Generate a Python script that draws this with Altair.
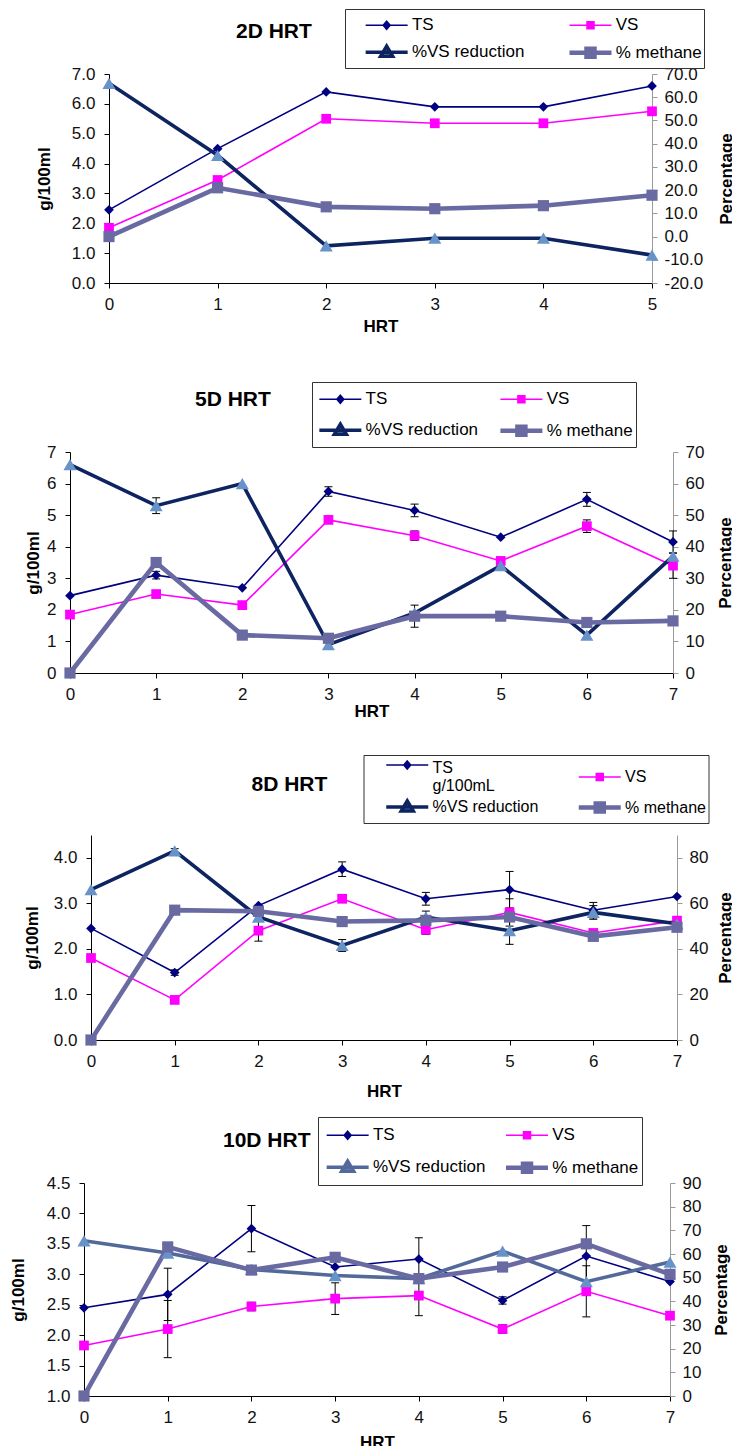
import altair as alt
import pandas as pd

FONT = "Liberation Sans"
SERIES = ["TS", "VS", "%VS reduction", "% methane"]

# ---------------- data ----------------
# 2D HRT
HRT_2D = [0, 1, 2, 3, 4, 5]
TS_2D = [2.45, 4.5, 6.4, 5.9, 5.9, 6.6]
VS_2D = [1.85, 3.45, 5.5, 5.35, 5.35, 5.75]
VSRED_2D = [66.0, 35.0, -4.0, -0.7, -0.7, -8.0]
METH_2D = [0.0, 21.0, 12.8, 12.0, 13.3, 17.8]
ZERO_6 = [0, 0, 0, 0, 0, 0]

# 5D HRT
HRT_5D = [0, 1, 2, 3, 4, 5, 6, 7]
TS_5D = [2.45, 3.1, 2.7, 5.75, 5.15, 4.3, 5.5, 4.15]
TS_5D_ERR = [0, 0.12, 0, 0.15, 0.2, 0, 0.22, 0.35]
VS_5D = [1.85, 2.5, 2.15, 4.85, 4.35, 3.55, 4.65, 3.4]
VS_5D_ERR = [0, 0, 0, 0, 0.15, 0, 0.2, 0.4]
VSRED_5D = [66.0, 53.0, 60.0, 9.0, 19.0, 34.0, 12.0, 37.0]
VSRED_5D_ERR = [0, 2.5, 0, 0, 0, 0, 0, 0]
METH_5D = [0.0, 35.0, 12.0, 11.0, 18.0, 18.0, 16.0, 16.5]
METH_5D_ERR = [0, 0, 0, 0, 3.5, 0, 0, 0]

# 8D HRT
HRT_8D = [0, 1, 2, 3, 4, 5, 6, 7]
TS_8D = [2.45, 1.48, 2.95, 3.75, 3.1, 3.3, 2.85, 3.15]
TS_8D_ERR = [0, 0.06, 0, 0.16, 0.14, 0.4, 0.17, 0]
VS_8D = [1.8, 0.88, 2.4, 3.1, 2.42, 2.8, 2.35, 2.62]
VS_8D_ERR = [0, 0, 0.23, 0, 0.1, 0.3, 0, 0]
VSRED_8D = [66.0, 83.0, 54.0, 41.5, 54.0, 48.0, 56.0, 51.0]
VSRED_8D_ERR = [0, 1.0, 0, 2.6, 2.6, 6.0, 3.0, 0]
METH_8D = [0.0, 57.0, 56.5, 52.0, 52.5, 54.0, 45.5, 49.5]
ZERO_8 = [0, 0, 0, 0, 0, 0, 0, 0]

# 10D HRT
HRT_10D = [0, 1, 2, 3, 4, 5, 6, 7]
TS_10D = [2.45, 2.67, 3.75, 3.12, 3.25, 2.57, 3.3, 2.88]
TS_10D_ERR = [0, 0.43, 0.38, 0, 0.35, 0.06, 0.5, 0]
VS_10D = [1.83, 2.1, 2.47, 2.6, 2.65, 2.1, 2.72, 2.32]
VS_10D_ERR = [0, 0.47, 0.07, 0.26, 0.33, 0.07, 0.42, 0.05]
VSRED_10D = [65.6, 60.4, 53.5, 50.9, 49.6, 61.2, 48.3, 56.6]
METH_10D = [0.0, 63.0, 53.2, 58.6, 49.6, 54.5, 64.3, 51.4]

# axis ticks
L_TICKS_2D = [0, 1, 2, 3, 4, 5, 6, 7]
R_TICKS_2D = [-20, -10, 0, 10, 20, 30, 40, 50, 60, 70]
L_TICKS_5D = [0, 1, 2, 3, 4, 5, 6, 7]
R_TICKS_5D = [0, 10, 20, 30, 40, 50, 60, 70]
L_TICKS_8D = [0, 1, 2, 3, 4]
R_TICKS_8D = [0, 20, 40, 60, 80]
L_TICKS_10D = [1.0, 1.5, 2.0, 2.5, 3.0, 3.5, 4.0, 4.5]
R_TICKS_10D = [0, 10, 20, 30, 40, 50, 60, 70, 80, 90]

# ---------------- styles ----------------
C_TS = "#000080"
C_VS = "#FF00FF"
C_RED_FILL = "#6793C8"
C_METH = "#6A6AA2"
SYM_C = 12.25  # centre of legend symbol cell (px)


def legend_paths(lead, ts_dy=0.0):
    xs = (lead - SYM_C) / 10.0
    xe = xs + 4.2
    xm = xs + 2.1

    def f(v):
        return f"{v:.3f}"

    ts = (f"M{f(xs)},{f(ts_dy)}H{f(xe)}M{f(xm)},{f(ts_dy - 0.4)}L{f(xm + 0.35)},{f(ts_dy)}"
          f"L{f(xm)},{f(ts_dy + 0.4)}L{f(xm - 0.35)},{f(ts_dy)}Z")
    vs = f"M{f(xs)},0H{f(xe)}M{f(xm - 0.35)},-0.35H{f(xm + 0.35)}V0.35H{f(xm - 0.35)}Z"
    red = f"M{f(xs)},0H{f(xe)}M{f(xm)},-0.6L{f(xm + 0.6)},0.4H{f(xm - 0.6)}Z"
    meth = f"M{f(xs)},0H{f(xe)}M{f(xm - 0.4)},-0.4H{f(xm + 0.4)}V0.4H{f(xm - 0.4)}Z"
    return [ts, vs, red, meth]


IND = dict(shape="independent", fill="independent", stroke="independent",
           strokeWidth="independent")


def make_panel(hrt, vals, errs, P):
    rows = []
    for s in SERIES:
        for i, h in enumerate(hrt):
            v = vals[s][i]
            e = errs[s][i]
            rows.append({"hrt": h, "series": s, "value": v, "err": e, "lo": v - e, "hi": v + e})
    df = pd.DataFrame(rows)
    base = alt.Chart(df)

    xenc = alt.X(
        "hrt:Q", title="HRT",
        scale=alt.Scale(domain=[0, max(hrt)], nice=False, zero=False),
        axis=alt.Axis(values=list(hrt), format="d", labelFlush=False, labelOverlap=False,
                      tickSize=5, labelPadding=8, titlePadding=P["x_tp"],
                      domainColor="black", tickColor="black"),
    )

    def yl(field):
        return alt.Y(
            f"{field}:Q", title="g/100ml",
            scale=alt.Scale(domain=P["ldom"], nice=False, zero=False),
            axis=alt.Axis(orient="left", values=P["lticks"], format=P["lfmt"],
                          labelFlush=False, labelOverlap=False, tickSize=5, labelPadding=9,
                          titlePadding=P["y_tp"], domainColor="black", tickColor="black"),
        )

    def yr(field):
        return alt.Y(
            f"{field}:Q", title="Percentage",
            scale=alt.Scale(domain=P["rdom"], nice=False, zero=False),
            axis=alt.Axis(orient="right", values=P["rticks"], format=P["rfmt"],
                          labelExpr="replace(datum.label, '\u2212', '-')",
                          labelFlush=False, labelOverlap=False, tickSize=5, labelPadding=7,
                          titlePadding=P["r_tp"], titleAngle=270,
                          domainColor="#9a9a9a", tickColor="#9a9a9a"),
        )

    def only(names):
        return " || ".join(f"datum.series == '{n}'" for n in names)

    red_line = P["red_line"]

    # ---- left (g/100ml) group ----
    left_layers = []
    for s, col in (("TS", C_TS), ("VS", C_VS)):
        left_layers.append(
            base.transform_filter(only([s])).mark_line(color=col, strokeWidth=1.6)
            .encode(x=xenc, y=yl("value"))
        )
    errL = base.transform_filter(f"({only(['TS', 'VS'])}) && datum.err > 0")
    left_layers.append(errL.mark_rule(color="black", strokeWidth=1).encode(x=xenc, y=yl("lo"), y2="hi"))
    left_layers.append(
        errL.transform_fold(["lo", "hi"], as_=["cap", "capv"])
        .mark_tick(orient="horizontal", size=8, thickness=1, color="black", opacity=1)
        .encode(x=xenc, y=yl("capv"))
    )
    left_layers.append(
        base.transform_filter(only(["TS"])).mark_point(shape="diamond", filled=True, size=95,
                                                       color=C_TS, opacity=1)
        .encode(x=xenc, y=yl("value"))
    )
    left_layers.append(
        base.transform_filter(only(["VS"])).mark_point(shape="square", filled=True, size=95,
                                                       color=C_VS, opacity=1)
        .encode(x=xenc, y=yl("value"))
    )

    leg_kw = dict(
        title=None, orient="none", legendX=P["lx"], legendY=P["ly"], columns=2,
        direction="horizontal",
        columnPadding=P["cp"], rowPadding=P["rp"], padding=P["pad"],
        strokeColor="#333333", fillColor="white", labelFont=FONT,
        labelFontSize=P["lfs"], labelColor="black", labelOffset=P["lead"] + 21.5,
        labelLimit=400, symbolSize=400, symbolOpacity=1, gridAlign="all", offset=0,
    )
    if P.get("ts_label2"):
        leg_kw["labelExpr"] = "datum.label == 'TS' ? ['TS', 'g/100mL'] : datum.label"
    leg = alt.Legend(**leg_kw)
    paths = legend_paths(P["lead"], P.get("ts_dy", 0.0))

    def sc(rng, **kw):
        return alt.Scale(domain=SERIES, range=rng, **kw)

    left_layers.append(
        base.transform_filter(only(["TS", "VS"])).mark_point(filled=True, opacity=0)
        .encode(
            x=xenc, y=yl("value"),
            shape=alt.Shape("series:N", scale=sc(paths), legend=leg),
            fill=alt.Fill("series:N", scale=sc([C_TS, C_VS, C_RED_FILL, C_METH]), legend=leg),
            stroke=alt.Stroke("series:N", scale=sc([C_TS, C_VS, red_line, C_METH]), legend=leg),
            strokeWidth=alt.StrokeWidth("series:N", scale=sc([1.5, 1.5, 3.5, 4.5], type="ordinal"),
                                        legend=leg),
        )
    )
    left = alt.layer(*left_layers)

    # ---- right (Percentage) group ----
    right_layers = []
    right_layers.append(
        base.transform_filter(only(["%VS reduction"])).mark_line(color=red_line, strokeWidth=3.6)
        .encode(x=xenc, y=yr("value"))
    )
    right_layers.append(
        base.transform_filter(only(["% methane"])).mark_line(color=C_METH, strokeWidth=4.6)
        .encode(x=xenc, y=yr("value"))
    )
    errR = base.transform_filter(f"({only(['%VS reduction', '% methane'])}) && datum.err > 0")
    right_layers.append(errR.mark_rule(color="black", strokeWidth=1).encode(x=xenc, y=yr("lo"), y2="hi"))
    right_layers.append(
        errR.transform_fold(["lo", "hi"], as_=["cap", "capv"])
        .mark_tick(orient="horizontal", size=8, thickness=1, color="black", opacity=1)
        .encode(x=xenc, y=yr("capv"))
    )
    right_layers.append(
        base.transform_filter(only(["%VS reduction"])).mark_point(shape="triangle-up", filled=True,
                                                                  size=170, color=C_RED_FILL, opacity=1)
        .encode(x=xenc, y=yr("value"))
    )
    right_layers.append(
        base.transform_filter(only(["% methane"])).mark_point(shape="square", filled=True, size=125,
                                                              color=C_METH, opacity=1)
        .encode(x=xenc, y=yr("value"))
    )
    right = alt.layer(*right_layers)

    panel = (
        alt.layer(left, right)
        .resolve_scale(y="independent")
        .properties(width=P["w"], height=P["h"])
    )

    # left margin cell: fixes the horizontal position of the panel and carries its title
    margin = (
        alt.Chart(alt.Data(values=[{"m": 1}]))
        .mark_point(opacity=0, size=1, filled=True, strokeWidth=0)
        .encode(x=alt.X("m:Q", axis=None, scale=alt.Scale(domain=[1, 2])),
                y=alt.Y("m:Q", axis=None, scale=alt.Scale(domain=[0, 1])))
        .properties(
            width=P["d"], height=P["h"],
            title=alt.TitleParams(text=P["title"], anchor="start", frame="group", dx=P["tdx"],
                                  offset=P["toff"], baseline="alphabetic", font=FONT,
                                  fontSize=21, fontWeight="bold", color="black"),
        )
    )
    return (alt.hconcat(margin, panel, spacing=0, bounds="flush")
            .resolve_scale(**IND).resolve_legend(**IND))


P2 = dict(title="2D HRT", d=100, w=543, h=209, ldom=[0, 7], lticks=L_TICKS_2D, lfmt=".1f",
          rdom=[-20, 70], rticks=R_TICKS_2D, rfmt=".1f", y_tp=18, x_tp=6.3, r_tp=32.5,
          lx=236, ly=-65, pad=1.75, lead=18.65, cp=25.85, rp=2.5, lfs=17, tdx=227, toff=14.5,
          red_line="#0D2461")
P5 = dict(title="5D HRT", d=60.5, w=603, h=221, ldom=[0, 7], lticks=L_TICKS_5D, lfmt="d",
          rdom=[0, 70], rticks=R_TICKS_5D, rfmt="d", y_tp=4.5, x_tp=1.3, r_tp=30.5,
          lx=242, ly=-70, pad=2.75, lead=4.35, cp=12.05, rp=6.5, lfs=17, tdx=186, toff=24.5,
          red_line="#0D2461")
P8 = dict(title="8D HRT", d=82, w=586, h=205, ldom=[0, 4.5], lticks=L_TICKS_8D, lfmt=".1f",
          rdom=[0, 90], rticks=R_TICKS_8D, rfmt="d", y_tp=12, x_tp=14.3, r_tp=26.5,
          lx=272.5, ly=-80, pad=2, lead=20.5, cp=19.5, rp=0, lfs=16, tdx=242.5, toff=22.5,
          red_line="#0D2461", ts_label2=True, ts_dy=-0.3)
P10 = dict(title="10D HRT", d=74.7, w=586, h=213, ldom=[1, 4.5], lticks=L_TICKS_10D, lfmt=".1f",
           rdom=[0, 90], rticks=R_TICKS_10D, rfmt="d", y_tp=18.7, x_tp=9.3, r_tp=29.5,
           lx=234, ly=-66, pad=3.75, lead=4.65, cp=10.35, rp=7.5, lfs=17, tdx=214, toff=14.5,
           red_line="#52699A")

p2 = make_panel(HRT_2D,
                {"TS": TS_2D, "VS": VS_2D, "%VS reduction": VSRED_2D, "% methane": METH_2D},
                {"TS": ZERO_6, "VS": ZERO_6, "%VS reduction": ZERO_6, "% methane": ZERO_6}, P2)
p5 = make_panel(HRT_5D,
                {"TS": TS_5D, "VS": VS_5D, "%VS reduction": VSRED_5D, "% methane": METH_5D},
                {"TS": TS_5D_ERR, "VS": VS_5D_ERR, "%VS reduction": VSRED_5D_ERR,
                 "% methane": METH_5D_ERR}, P5)
p8 = make_panel(HRT_8D,
                {"TS": TS_8D, "VS": VS_8D, "%VS reduction": VSRED_8D, "% methane": METH_8D},
                {"TS": TS_8D_ERR, "VS": VS_8D_ERR, "%VS reduction": VSRED_8D_ERR,
                 "% methane": ZERO_8}, P8)
p10 = make_panel(HRT_10D,
                 {"TS": TS_10D, "VS": VS_10D, "%VS reduction": VSRED_10D, "% methane": METH_10D},
                 {"TS": TS_10D_ERR, "VS": VS_10D_ERR, "%VS reduction": ZERO_8,
                  "% methane": ZERO_8}, P10)


def stack(a, b, gap):
    return (alt.concat(a, b, columns=1, spacing=gap)
            .resolve_scale(**IND).resolve_legend(**IND))


chart = (
    stack(stack(p2, p5, 46), stack(p8, p10, 16), 34)
    .properties(padding={"left": 0, "top": 0, "right": -3, "bottom": 0})
    .configure(font=FONT)
    .configure_view(stroke=None)
    .configure_axis(labelFont=FONT, titleFont=FONT, labelFontSize=17, titleFontSize=17,
                    titleFontWeight="bold", labelColor="#111111", titleColor="black", grid=False)
)

chart.save("out.html", embed_options={"renderer": "svg", "actions": False})
